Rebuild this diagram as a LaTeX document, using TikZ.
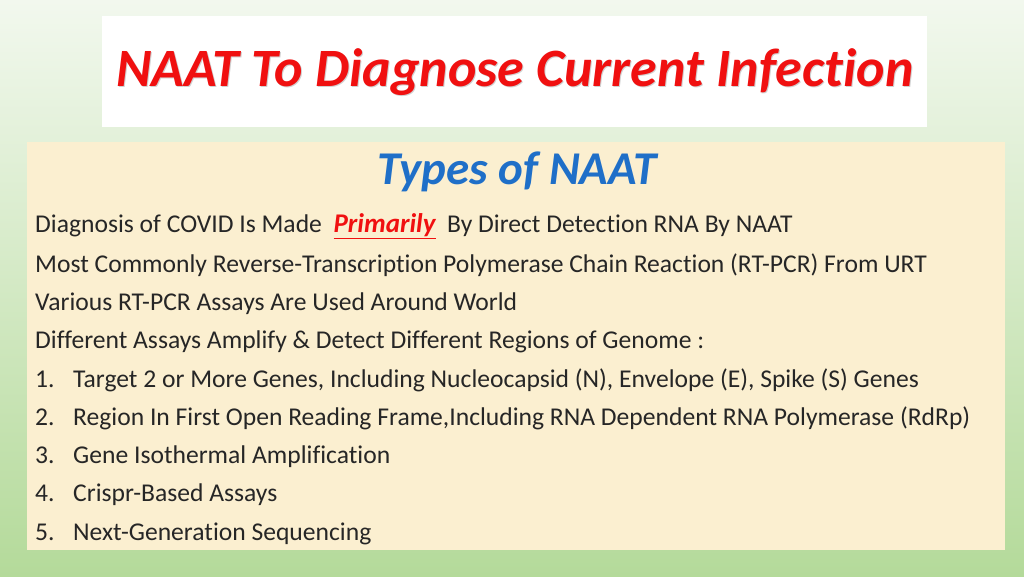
\documentclass[tikz,border=0pt]{standalone}
\usepackage{fontspec}
\setmainfont[Ligatures={NoCommon}]{Carlito}
\definecolor{bgtop}{HTML}{F2F8EE}
\definecolor{bgbot}{HTML}{B4DA9A}
\definecolor{beige}{HTML}{FBEFD0}
\definecolor{titlered}{HTML}{F01010}
\definecolor{headblue}{HTML}{1F6FC8}
\tikzset{line/.style={anchor=west,inner sep=0pt,text height=0.7em,text depth=0.2em,font=\fontsize{25.6}{28}\selectfont,text=black!85}}
\begin{document}
\begin{tikzpicture}[x=1pt,y=-1pt]
\useasboundingbox (0,0) rectangle (1024,576);
\shade[top color=bgtop,bottom color=bgbot] (0,0) rectangle (1024,576);
\fill[white] (102,16) rectangle (927,127);
\node[inner sep=0pt,text=black!18,font=\fontsize{54}{58}\selectfont\bfseries\itshape] (shadow) at (516,73) {NAAT To Diagnose Current Infection};
\node[inner sep=0pt,text=titlered,font=\fontsize{54}{58}\selectfont\bfseries\itshape] (title) at (515,72) {NAAT To Diagnose Current Infection};
\fill[beige] (27,142) rectangle (1005,550);
\node[inner sep=0pt,text=headblue,font=\fontsize{47}{50}\selectfont\bfseries\itshape] (head) at (517,172) {Types of NAAT};
\node[line] (l1) at (35,230) {Diagnosis of COVID Is Made \ {\color{titlered}\bfseries\itshape\fontsize{27}{30}\selectfont\underline{Primarily}}\ \ By Direct Detection RNA By NAAT};
\node[line] (l2) at (35,270) {Most Commonly Reverse-Transcription Polymerase Chain Reaction (RT-PCR) From URT};
\node[line] (l3) at (35,308) {Various RT-PCR Assays Are Used Around World};
\node[line] (l4) at (35,346) {Different Assays Amplify \& Detect Different Regions of Genome :};
\foreach \n/\y/\t in {1/385/{Target 2 or More Genes, Including Nucleocapsid (N), Envelope (E), Spike (S) Genes},
  2/423/{Region In First Open Reading Frame,Including RNA Dependent RNA Polymerase (RdRp)},
  3/461/{Gene Isothermal Amplification},
  4/499/{Crispr-Based Assays},
  5/538/{Next-Generation Sequencing}}{
  \node[line] (n\n) at (35,\y) {\n.};
  \node[line] (t\n) at (73,\y) {\t};
}
\end{tikzpicture}
\end{document}
